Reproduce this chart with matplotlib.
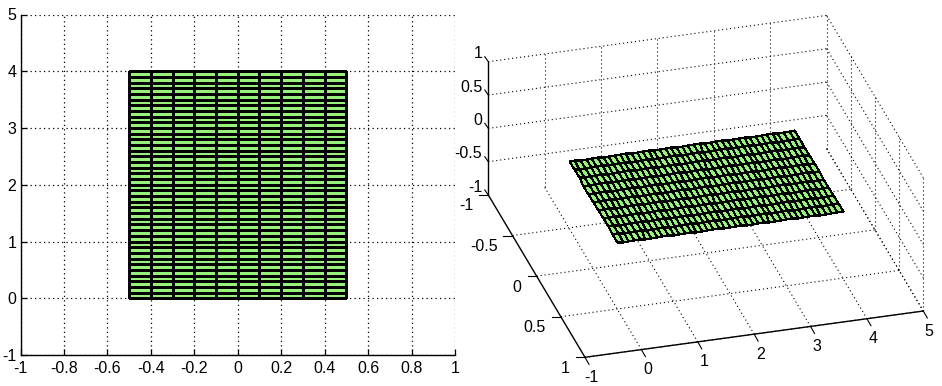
# plot.py
"""
Flat surface seen from above (left) and in a 3D view (right)
"""

import numpy as np
import matplotlib
matplotlib.use("Agg")
import matplotlib.pyplot as plt
from matplotlib.colors import ListedColormap

W, H = 942, 386

plt.rcParams['font.family'] = ['Liberation Sans', 'DejaVu Sans']

# surface extents and mesh
surf_x = np.linspace(-0.5, 0.5, 11)
surf_y = np.linspace(0, 4, 41)
surf_z = 0.0

# ticks, left panel
left_xticks = [-1, -0.8, -0.6, -0.4, -0.2, 0, 0.2, 0.4, 0.6, 0.8, 1]
left_yticks = [-1, 0, 1, 2, 3, 4, 5]

# ticks, right panel
ticks_x3 = [-1, -0.5, 0, 0.5, 1]
ticks_y3 = [-1, 0, 1, 2, 3, 4, 5]
ticks_z3 = [-1, -0.5, 0, 0.5, 1]

GREEN = "#98F07C"
CMAP = ListedColormap([GREEN])
DOT = (0, (1, 2.6))
FS = 11.5

fig = plt.figure(figsize=(W / 100, H / 100), dpi=100)


def px_axes(x0, y0, x1, y1):
    # axes box given in image pixels, y going down
    return fig.add_axes([x0 / W, 1 - y1 / H, (x1 - x0) / W, (y1 - y0) / H])


# ---- left panel
ax = px_axes(20.5, 14.5, 455, 355)
ax.set_xlim(-1, 1)
ax.set_ylim(-1, 5)
ax.grid(True, color="black", linestyle=DOT, linewidth=0.9)
ax.set_axisbelow(True)
for side in ("top", "right"):
    ax.spines[side].set_visible(False)
for side in ("left", "bottom"):
    ax.spines[side].set_linewidth(1.0)
ax.set_xticks(left_xticks)
ax.set_xticklabels([f"{t:g}" for t in left_xticks], fontsize=FS)
ax.set_yticks(left_yticks)
ax.set_yticklabels([f"{t:g}" for t in left_yticks], fontsize=FS)
ax.tick_params(direction="in", length=4, width=0.9, pad=4)
ax.tick_params(axis="y", pad=3)
X, Y = np.meshgrid(surf_x, surf_y)
ax.pcolormesh(X, Y, np.zeros((len(surf_y) - 1, len(surf_x) - 1)), shading="flat",
              cmap=CMAP, edgecolors="black", linewidth=1.0, zorder=3)

# ---- right panel: orthographic view fixed by the box corners in pixels
ax3 = fig.add_axes([0, 0, 1, 1])
ax3.set_xlim(0, W)
ax3.set_ylim(H, 0)
ax3.axis("off")
ax3.patch.set_alpha(0)

ORIGIN = np.array([488.3, 195.0])   # x=-1, y=-1, z=-1
EX = np.array([96.7, 162.3])        # x from -1 to 1
EY = np.array([338.3, -46.3])       # y from -1 to 5
EZ = np.array([0.0, -133.3])        # z from -1 to 1


def proj(x, y, z):
    x, y, z = np.broadcast_arrays(x, y, z)
    px = ORIGIN[0] + (x + 1) / 2 * EX[0] + (y + 1) / 6 * EY[0] + (z + 1) / 2 * EZ[0]
    py = ORIGIN[1] + (x + 1) / 2 * EX[1] + (y + 1) / 6 * EY[1] + (z + 1) / 2 * EZ[1]
    return px, py


def line3(p, q, **kw):
    a = proj(*p)
    b = proj(*q)
    ax3.plot([a[0], b[0]], [a[1], b[1]], **kw)


grid_kw = dict(color="black", linestyle=DOT, linewidth=0.8, zorder=1)
# floor
for v in ticks_x3[1:]:
    line3((v, -1, -1), (v, 5, -1), **grid_kw)
for v in ticks_y3[1:]:
    line3((-1, v, -1), (1, v, -1), **grid_kw)
# back wall, x = -1
for v in ticks_z3[1:]:
    line3((-1, -1, v), (-1, 5, v), **grid_kw)
for v in ticks_y3[1:]:
    line3((-1, v, -1), (-1, v, 1), **grid_kw)
# side wall, y = 5
for v in ticks_z3:
    line3((-1, 5, v), (1, 5, v), **grid_kw)
for v in ticks_x3[1:]:
    line3((v, 5, -1), (v, 5, 1), **grid_kw)

X3, Y3 = np.meshgrid(surf_x, surf_y)
PX, PY = proj(X3, Y3, surf_z)
ax3.pcolormesh(PX, PY, np.zeros((len(surf_y) - 1, len(surf_x) - 1)), shading="flat",
               cmap=CMAP, edgecolors="black", linewidth=0.8, zorder=3)

axis_kw = dict(color="black", linewidth=1.0, zorder=4, solid_capstyle="projecting")
line3((-1, -1, -1), (-1, -1, 1), **axis_kw)
line3((-1, -1, -1), (1, -1, -1), **axis_kw)
line3((1, -1, -1), (1, 5, -1), **axis_kw)

tick_kw = dict(color="black", linewidth=0.8, zorder=4)
# tick marks and labels
for v in ticks_z3:
    a = proj(-1, -1, v)
    ax3.plot([a[0] - 3.5, a[0]], [a[1] - 5, a[1]], **tick_kw)
    ax3.text(a[0] - 6, a[1] - 8, f"{v:g}", ha="right", va="center", fontsize=FS)
for v in ticks_x3:
    a = proj(v, -1, -1)
    ax3.plot([a[0] - 9, a[0]], [a[1], a[1]], **tick_kw)
    ax3.text(a[0] - 15, a[1] + 11, f"{v:g}", ha="right", va="center", fontsize=FS)
for v in ticks_y3:
    a = proj(1, v, -1)
    ax3.plot([a[0], a[0] + 4], [a[1], a[1] + 7], **tick_kw)
    ax3.text(a[0] + 6, a[1] + 20, f"{v:g}", ha="center", va="center", fontsize=FS)

fig.savefig("out.png", dpi=100)
